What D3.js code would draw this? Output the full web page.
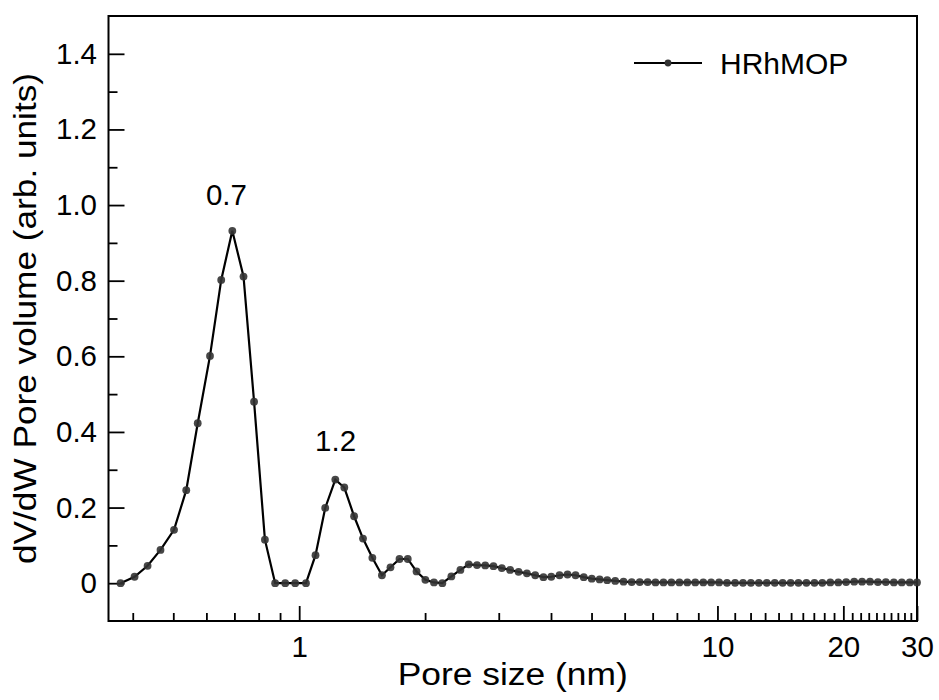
<!DOCTYPE html>
<html>
<head>
<meta charset="utf-8">
<script src="https://cdn.jsdelivr.net/npm/d3@7"></script>
<style>
  body { margin: 0; background: #fff; }
  svg text { font-family: "Liberation Sans", Arial, Helvetica, sans-serif; fill: #000; }
</style>
</head>
<body>
<svg id="chart"></svg>
<script>
// pore size (nm)
var poreSize = [0.374, 0.404, 0.434, 0.466, 0.502, 0.537, 0.572, 0.612, 0.651, 0.692,
  0.736, 0.780, 0.828, 0.876, 0.926, 0.978, 1.038, 1.094, 1.154, 1.220,
  1.282, 1.353, 1.421, 1.496, 1.577, 1.653, 1.737, 1.818, 1.908, 2.003,
  2.100, 2.199, 2.311, 2.429, 2.543, 2.662, 2.785, 2.914, 3.051, 3.194,
  3.346, 3.503, 3.667, 3.837, 4.006, 4.192, 4.381, 4.579, 4.790, 5.006,
  5.228, 5.450, 5.696, 5.963, 6.237, 6.52, 6.81, 7.11, 7.43, 7.76,
  8.11, 8.47, 8.85, 9.25, 9.66, 10.09, 10.54, 11.02, 11.51, 12.02,
  12.56, 13.12, 13.71, 14.32, 14.96, 15.62, 16.32, 17.06, 17.81, 18.61,
  19.45, 20.31, 21.23, 22.17, 23.16, 24.19, 25.27, 26.41, 27.59, 28.83, 30.0];

// dV/dW pore volume (arb. units)
var poreVolume = [0.000, 0.017, 0.046, 0.088, 0.141, 0.246, 0.423, 0.601, 0.802, 0.932,
  0.811, 0.480, 0.115, 0.000, 0.000, 0.000, 0.000, 0.074, 0.199, 0.274,
  0.253, 0.177, 0.118, 0.067, 0.021, 0.042, 0.064, 0.064, 0.031, 0.009,
  0.002, 0.000, 0.018, 0.035, 0.050, 0.048, 0.047, 0.045, 0.040, 0.035,
  0.030, 0.026, 0.021, 0.016, 0.017, 0.021, 0.023, 0.021, 0.016, 0.012,
  0.010, 0.008, 0.006, 0.004, 0.003, 0.003, 0.003, 0.002, 0.002, 0.002,
  0.002, 0.002, 0.002, 0.002, 0.002, 0.002, 0.001, 0.001, 0.001, 0.001,
  0.001, 0.001, 0.001, 0.001, 0.001, 0.001, 0.001, 0.001, 0.001, 0.002,
  0.002, 0.003, 0.004, 0.004, 0.004, 0.003, 0.003, 0.002, 0.002, 0.002, 0.002];

var seriesName = "HRhMOP";

var xMajorTicks = [1, 10, 20, 30];
var xMinorTicks = [0.4, 0.5, 0.6, 0.7, 0.8, 0.9, 2, 3, 4, 5, 6, 7, 8, 9,
  11, 12, 13, 14, 15, 16, 17, 18, 19, 21, 22, 23, 24, 25, 26, 27, 28, 29];
var yMajorTicks = [0, 0.2, 0.4, 0.6, 0.8, 1.0, 1.2, 1.4];
var yMinorTicks = [0.1, 0.3, 0.5, 0.7, 0.9, 1.1, 1.3];

var peakLabels = ["0.7", "1.2"];
var peakLabelX = [0.670, 1.222];
var peakLabelY = [1.0, 0.35];

var width = 939, height = 700;
var margin = {top: 16, right: 22, bottom: 79, left: 108.5};

var svg = d3.select("#chart")
  .attr("width", width)
  .attr("height", height);

var x = d3.scaleLog()
  .domain([0.35, 30])
  .range([margin.left, width - margin.right]);

var y = d3.scaleLinear()
  .domain([-0.1, 1.5])
  .range([height - margin.bottom, margin.top]);

function styleAxis(g) {
  g.select(".domain").remove();
  g.selectAll(".tick line").attr("stroke", "#000").attr("stroke-width", 1.8);
  g.attr("font-family", null).attr("font-size", null);
  g.selectAll("text").attr("font-size", 29.5);
}

// minor ticks first, then major ticks
svg.append("g")
  .attr("transform", "translate(0," + (height - margin.bottom) + ")")
  .call(d3.axisBottom(x).tickValues(xMinorTicks).tickSizeInner(-8).tickSizeOuter(0).tickFormat(""))
  .call(styleAxis);

svg.append("g")
  .attr("transform", "translate(0," + (height - margin.bottom) + ")")
  .call(d3.axisBottom(x).tickValues(xMajorTicks).tickSizeInner(-15).tickSizeOuter(0)
    .tickPadding(15).tickFormat(d3.format("d")))
  .call(styleAxis);

svg.append("g")
  .attr("transform", "translate(" + margin.left + ",0)")
  .call(d3.axisLeft(y).tickValues(yMinorTicks).tickSizeInner(-9).tickSizeOuter(0).tickFormat(""))
  .call(styleAxis);

svg.append("g")
  .attr("transform", "translate(" + margin.left + ",0)")
  .call(d3.axisLeft(y).tickValues(yMajorTicks).tickSizeInner(-16).tickSizeOuter(0)
    .tickPadding(11.5).tickFormat(d => d === 0 ? "0" : d3.format(".1f")(d)))
  .call(styleAxis);

// frame
svg.append("rect")
  .attr("x", margin.left)
  .attr("y", margin.top)
  .attr("width", width - margin.left - margin.right)
  .attr("height", height - margin.top - margin.bottom)
  .attr("fill", "none")
  .attr("stroke", "#000")
  .attr("stroke-width", 2);

var data = poreSize.map((s, i) => ({size: s, value: poreVolume[i]}));

var line = d3.line()
  .x(d => x(d.size))
  .y(d => y(d.value));

svg.append("path")
  .datum(data)
  .attr("d", line)
  .attr("fill", "none")
  .attr("stroke", "#000")
  .attr("stroke-width", 2.2);

svg.append("g")
  .selectAll("circle")
  .data(data)
  .enter()
  .append("circle")
  .attr("cx", d => x(d.size))
  .attr("cy", d => y(d.value))
  .attr("r", 3.9)
  .attr("fill", "#333")
  .attr("fill-opacity", 0.9);

// peak annotations
svg.append("g")
  .selectAll("text")
  .data(peakLabels)
  .enter()
  .append("text")
  .attr("x", (d, i) => x(peakLabelX[i]))
  .attr("y", (d, i) => y(peakLabelY[i]))
  .attr("text-anchor", "middle")
  .attr("font-size", 29.5)
  .text(d => d);

// legend
var legend = svg.append("g").attr("transform", "translate(634,63)");
legend.append("line")
  .attr("x1", 0).attr("x2", 68)
  .attr("stroke", "#000").attr("stroke-width", 2);
legend.append("circle")
  .attr("cx", 34).attr("r", 3.4).attr("fill", "#333");
legend.append("text")
  .attr("x", 86).attr("y", 11)
  .attr("font-size", 30)
  .text(seriesName);

// axis titles
svg.append("text")
  .attr("x", (margin.left + width - margin.right) / 2)
  .attr("y", 685)
  .attr("text-anchor", "middle")
  .attr("font-size", 31)
  .attr("textLength", 230)
  .attr("lengthAdjust", "spacingAndGlyphs")
  .text("Pore size (nm)");

svg.append("text")
  .attr("transform", "translate(36," + ((margin.top + height - margin.bottom) / 2) + ") rotate(-90)")
  .attr("text-anchor", "middle")
  .attr("font-size", 31)
  .attr("textLength", 491)
  .attr("lengthAdjust", "spacingAndGlyphs")
  .text("dV/dW Pore volume (arb. units)");
</script>
</body>
</html>
